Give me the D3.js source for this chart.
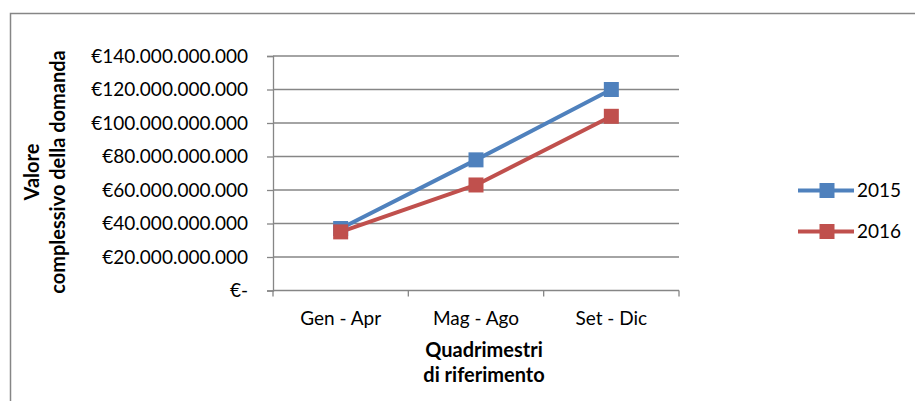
<!DOCTYPE html>
<html>
<head>
<meta charset="utf-8">
<script src="https://cdn.jsdelivr.net/npm/d3@7"></script>
<style>
  html, body { margin: 0; padding: 0; background: #fff; }
  svg { display: block; }
  text { font-family: Lato, "Open Sans", sans-serif; fill: #000; }
</style>
</head>
<body>
<script>
const categories = ["Gen - Apr", "Mag - Ago", "Set - Dic"];
const seriesNames = ["2015", "2016"];
const values2015 = [37e9, 78e9, 120e9];
const values2016 = [35e9, 63e9, 104e9];
const yTicks = [0, 20e9, 40e9, 60e9, 80e9, 100e9, 120e9, 140e9];
const yTitleLines = ["Valore", "complessivo della domanda"];
const xTitleLines = ["Quadrimestri", "di riferimento"];
const colors = ["#4F81BD", "#C0504D"];

const W = 915, H = 401;
const svg = d3.select("body").append("svg").attr("width", W).attr("height", H);

// outer chart border (only top/left visible)
svg.append("rect").attr("x", 10.5).attr("y", 13.5).attr("width", 1000).attr("height", 1000)
  .attr("fill", "none").attr("stroke", "#868686").attr("stroke-width", 1.5);

const plot = { left: 273, right: 679, top: 56, bottom: 290.5 };

const x = d3.scaleBand().domain(categories).range([plot.left, plot.right]);
const y = d3.scaleLinear().domain([0, 140e9]).range([plot.bottom, plot.top]);

const fmt = v => v === 0 ? "€-" : "€" + d3.format(",")(v).replace(/,/g, ".");

// gridlines
svg.append("g").selectAll("line").data(yTicks.filter(d => d > 0)).join("line")
  .attr("x1", plot.left).attr("x2", plot.right)
  .attr("y1", d => y(d)).attr("y2", d => y(d))
  .attr("stroke", "#868686").attr("stroke-width", 1.3);

// y axis
const yAxis = svg.append("g").attr("transform", `translate(${plot.left},0)`)
  .call(d3.axisLeft(y).tickValues(yTicks).tickFormat(fmt).tickSize(6).tickPadding(19));
yAxis.select(".domain").attr("stroke", "#868686").attr("stroke-width", 1.3);
yAxis.selectAll(".tick line").attr("stroke", "#868686").attr("stroke-width", 1.3);
yAxis.selectAll("text").attr("font-size", 19).attr("font-family", "Lato").attr("fill", "#000");

// x axis (ticks at band edges)
const xg = svg.append("g").attr("transform", `translate(0,${plot.bottom})`);
xg.append("line").attr("x1", plot.left).attr("x2", plot.right).attr("stroke", "#868686").attr("stroke-width", 1.3);
const edges = categories.map(c => x(c)).concat([x(categories[categories.length - 1]) + x.bandwidth()]);
xg.selectAll("line.tk").data(edges).join("line").attr("class", "tk")
  .attr("x1", d => d).attr("x2", d => d).attr("y1", 0).attr("y2", 6)
  .attr("stroke", "#868686").attr("stroke-width", 1.3);
xg.selectAll("text").data(categories).join("text")
  .attr("x", d => x(d) + x.bandwidth() / 2).attr("y", 34.5)
  .attr("text-anchor", "middle").attr("font-size", 19).text(d => d);

// axis titles
svg.append("g").attr("transform", "translate(0,172) rotate(-90)")
  .selectAll("text").data(yTitleLines).join("text")
  .attr("x", 0).attr("y", (d, i) => 39 + i * 26)
  .attr("text-anchor", "middle").attr("font-weight", "bold").attr("font-size", 20).text(d => d);
svg.append("g").selectAll("text").data(xTitleLines).join("text")
  .attr("x", 484).attr("y", (d, i) => 357 + i * 24.5)
  .attr("text-anchor", "middle").attr("font-weight", "bold").attr("font-size", 20).text(d => d);

// series
const series = [values2015, values2016];
const line = d3.line().x((d, i) => x(categories[i]) + x.bandwidth() / 2).y(d => y(d));
const ms = 15;
series.forEach((vals, s) => {
  svg.append("path").datum(vals).attr("d", line).attr("fill", "none")
    .attr("stroke", colors[s]).attr("stroke-width", 4).attr("stroke-linejoin", "round");
});
series.forEach((vals, s) => {
  svg.append("g").selectAll("rect").data(vals).join("rect")
    .attr("x", (d, i) => x(categories[i]) + x.bandwidth() / 2 - ms / 2)
    .attr("y", d => y(d) - ms / 2)
    .attr("width", ms).attr("height", ms).attr("fill", colors[s]);
});

// legend
const legendY = [190.5, 231.5];
seriesNames.forEach((name, s) => {
  const g = svg.append("g").attr("transform", `translate(0,${legendY[s]})`);
  g.append("line").attr("x1", 798).attr("x2", 854).attr("stroke", colors[s]).attr("stroke-width", 4);
  g.append("rect").attr("x", 827 - ms / 2).attr("y", -ms / 2).attr("width", ms).attr("height", ms).attr("fill", colors[s]);
  g.append("text").attr("x", 857).attr("y", 6.5).attr("font-size", 19).text(name);
});
</script>
</body>
</html>
